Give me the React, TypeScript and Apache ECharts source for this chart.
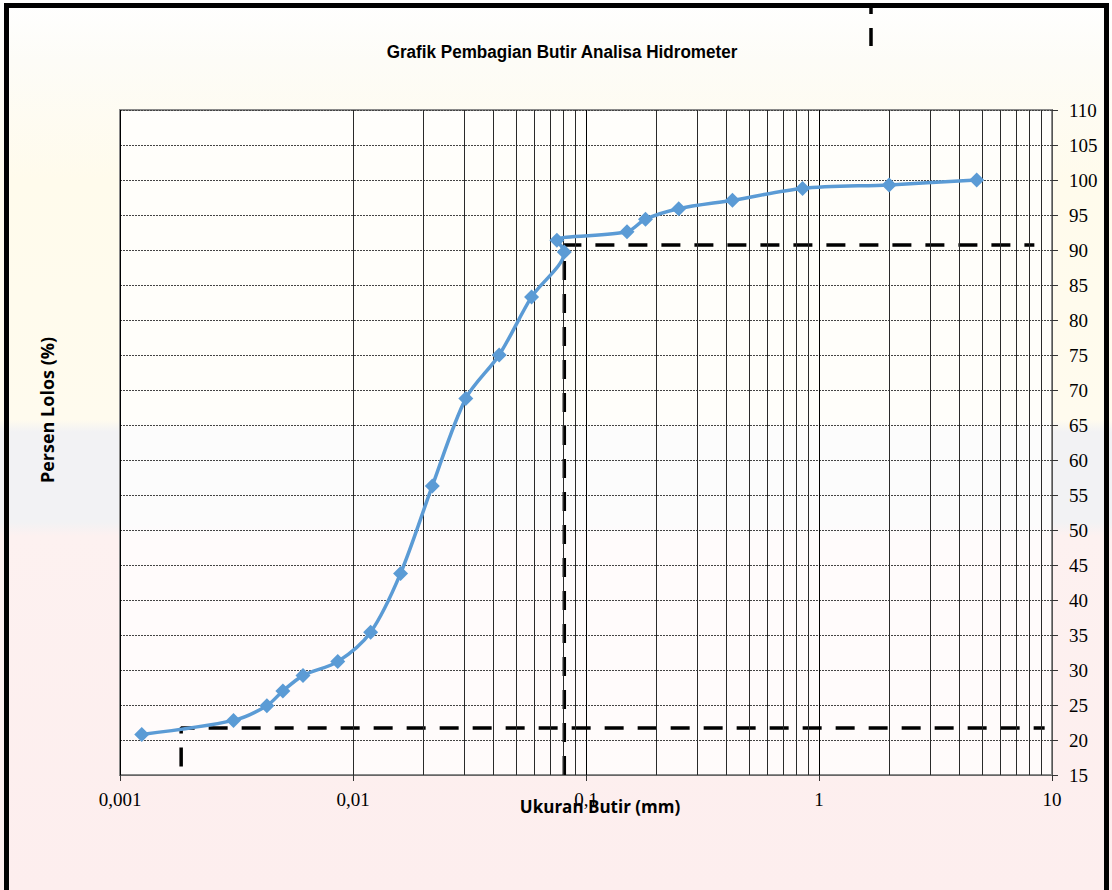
import React, { useEffect, useRef } from "react";
import * as echarts from "echarts";

// ---- Data ----
const grainSizeMm = [
  0.00124, 0.00307, 0.00427, 0.005, 0.0061, 0.0086, 0.0119, 0.016, 0.0219,
  0.0305, 0.0424, 0.0584, 0.0807, 0.075, 0.15, 0.18, 0.25, 0.425, 0.85, 2.0, 4.75,
];
const percentPassing = [
  20.8, 22.8, 24.9, 27.0, 29.2, 31.2, 35.4, 43.8, 56.3, 68.8, 75.0, 83.3, 89.7,
  91.4, 92.6, 94.4, 95.9, 97.1, 98.8, 99.3, 100.0,
];

// dashed guide lines (x in mm, y in %)
const guideLowX = [0.00183, 0.00183, 9.3];
const guideLowY = [16.2, 21.7, 21.7];
const guideHighX = [0.0807, 0.0807, 8.4];
const guideHighY = [15, 90.7, 90.7];

const xTickLabels = ["0,001", "0,01", "0,1", "1", "10"];
const xDecades = [0.001, 0.01, 0.1, 1];
const minorMultipliers = [2, 3, 4, 5, 6, 7, 8, 9];

const yMin = 15;
const yMax = 110;
const yStep = 5;

const titleText = "Grafik Pembagian Butir Analisa Hidrometer";
const xName = "Ukuran Butir (mm)";
const yName = "Persen Lolos (%)";

export default function App() {
  const ref = useRef<HTMLDivElement>(null);

  useEffect(() => {
    if (!ref.current) return;
    const chart = echarts.init(ref.current, null, { renderer: "svg" });

    const mainData = grainSizeMm.map((x, i) => [x, percentPassing[i]]);
    const lowGuide = guideLowX.map((x, i) => [x, guideLowY[i]]);
    const highGuide = guideHighX.map((x, i) => [x, guideHighY[i]]);
    const minorLines: { xAxis: number }[] = [];
    xDecades.forEach((d) =>
      minorMultipliers.forEach((m) => minorLines.push({ xAxis: +(d * m).toPrecision(3) }))
    );

    const serif = '"Liberation Serif", "Times New Roman", serif';
    const sans = '"Open Sans", "Noto Sans", sans-serif';

    chart.setOption({
      animation: false,
      backgroundColor: "transparent",
      grid: {
        left: 120,
        right: 60,
        top: 110,
        bottom: 115,
        show: true,
        backgroundColor: "rgba(255,255,255,0.72)",
        borderColor: "#8a8a8a",
        borderWidth: 2,
        containLabel: false,
        outerBoundsMode: "none",
      },
      xAxis: {
        type: "log",
        logBase: 10,
        min: 0.001,
        max: 10,
        axisLine: { show: true, lineStyle: { color: "#666", width: 1 } },
        axisTick: { show: true, length: 6, lineStyle: { color: "#333" } },
        axisLabel: {
          formatter: (v: number) => xTickLabels[Math.round(Math.log10(v)) + 3] ?? "",
          fontFamily: serif,
          fontSize: 19,
          color: "#000",
          margin: 15,
        },
        splitLine: { show: true, lineStyle: { color: "#000", width: 1 } },
      },
      yAxis: {
        type: "value",
        position: "right",
        min: yMin,
        max: yMax,
        interval: yStep,
        axisLine: { show: true, lineStyle: { color: "#555", width: 1 } },
        axisTick: { show: true, length: 6, lineStyle: { color: "#333" } },
        axisLabel: {
          fontFamily: serif,
          fontSize: 19,
          color: "#000",
          margin: 17,
        },
        splitLine: { show: true, lineStyle: { color: "#444", width: 1, type: [2, 1] } },
      },
      series: [
        {
          type: "line",
          data: [[0.001, yMin]],
          symbol: "none",
          lineStyle: { opacity: 0 },
          z: 1,
          silent: true,
          markLine: {
            silent: true,
            symbol: ["none", "none"],
            label: { show: false },
            lineStyle: { color: "#2a2a2a", width: 1, type: "solid" },
            data: minorLines,
          },
        },
        {
          type: "line",
          data: lowGuide,
          symbol: "none",
          lineStyle: { color: "#000", width: 3.5, type: [19, 14] },
          z: 3,
          silent: true,
        },
        {
          type: "line",
          data: highGuide,
          symbol: "none",
          lineStyle: { color: "#000", width: 3.5, type: [19, 14] },
          z: 3,
          silent: true,
        },
        {
          type: "line",
          data: mainData,
          smooth: 0.3,
          symbol: "diamond",
          symbolSize: 15,
          itemStyle: { color: "#5b9bd5" },
          lineStyle: { color: "#5b9bd5", width: 3.5 },
          z: 5,
        },
      ],
      graphic: [
        {
          type: "rect",
          shape: { x: 6.5, y: 5.5, width: 1100, height: 920 },
          style: { fill: "none", stroke: "#000", lineWidth: 5 },
          z: 100,
          silent: true,
        },
        {
          type: "line",
          shape: { x1: 871, y1: 46, x2: 871, y2: 4 },
          style: { stroke: "#000", lineWidth: 3.5, lineDash: [18, 14] },
          z: 100,
          silent: true,
        },
        {
          type: "text",
          x: 562,
          y: 52,
          scaleX: 0.9,
          style: {
            text: titleText,
            font: 'bold 19px "Liberation Sans", Arial, sans-serif',
            fill: "#000",
            align: "center",
            verticalAlign: "middle",
          },
          z: 100,
        },
        {
          type: "text",
          x: 600,
          y: 806,
          style: {
            text: xName,
            font: `bold 17px ${sans}`,
            fill: "#000",
            align: "center",
            verticalAlign: "middle",
          },
          z: 100,
        },
        {
          type: "text",
          x: 47,
          y: 410,
          rotation: Math.PI / 2,
          style: {
            text: yName,
            font: `bold 18px ${sans}`,
            fill: "#000",
            align: "center",
            verticalAlign: "middle",
          },
          z: 100,
        },
      ],
    });

    return () => chart.dispose();
  }, []);

  return (
    <div
      ref={ref}
      style={{
        position: "absolute",
        left: 0,
        top: 0,
        width: 1112,
        height: 890,
        background:
          "linear-gradient(to bottom, #ffffff 0px, #fdfcf7 60px, #fffbec 180px, #fffbee 420px, #f2f2f4 432px, #f2f2f4 522px, #fdf1f0 536px, #fdeeee 890px)",
      }}
    />
  );
}
